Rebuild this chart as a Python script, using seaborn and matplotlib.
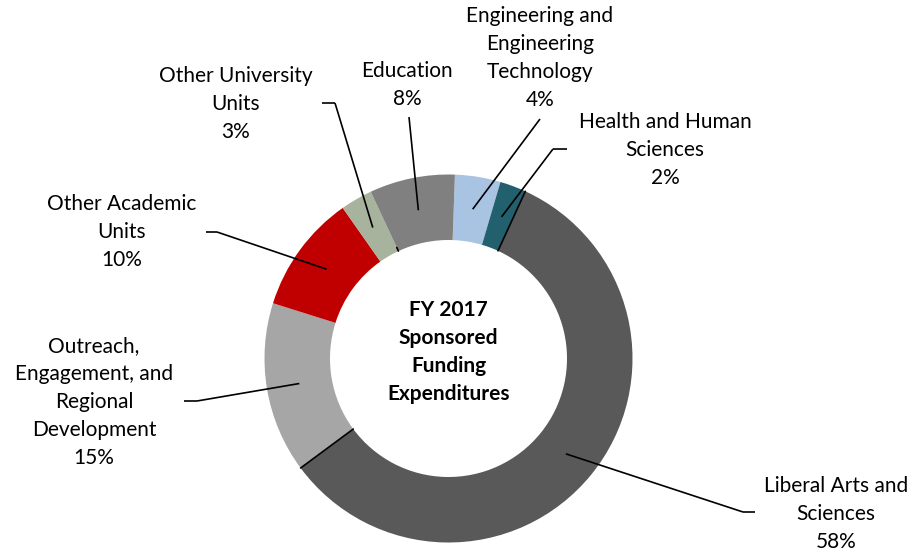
import numpy as np
import matplotlib
matplotlib.use("Agg")
import matplotlib.pyplot as plt
import seaborn as sns

# ---- data ----
categories = ["Engineering and\nEngineering\nTechnology", "Health and Human\nSciences",
              "Liberal Arts and\nSciences", "Outreach,\nEngagement, and\nRegional\nDevelopment",
              "Other Academic\nUnits", "Other University\nUnits", "Education"]
shares = [4.0, 2.3, 58.0, 15.0, 10.4, 2.8, 7.5]
pct_labels = ["4%", "2%", "58%", "15%", "10%", "3%", "8%"]
colors = ["#A9C3E3", "#22606E", "#595959", "#A6A6A6", "#C00000", "#A8B39D", "#808080"]
center_title = "FY 2017\nSponsored\nFunding\nExpenditures"

# ---- layout (pixel space of the 913x552 canvas, y measured from top) ----
W, H = 913, 552
cx, cy_top = 448.5, 358.5
R_out, R_in = 184, 118.5
label_xy = [(540, 58), (665, 150), (836, 514), (94, 402), (122, 232), (236, 104), (407, 85)]
tick_start = [(540, 119), (567, 149), (743, 512), (197, 401), (206, 232), (322, 103), (409, 117)]
tick_end = [None, (553, 149), (755, 512), (184, 401), (217, 232), (335, 103), None]

sns.set_theme(style="white")
plt.rcParams["font.family"] = ["Lato", "DejaVu Sans"]

fig = plt.figure(figsize=(W / 100, H / 100), dpi=100)
ax = fig.add_axes([0, 0, 1, 1])

cy = H - cy_top
wedges, _ = ax.pie(shares, colors=colors, startangle=88, counterclock=False,
                   radius=R_out, center=(cx, cy), frame=True,
                   wedgeprops=dict(width=R_out - R_in, linewidth=0))
ax.set_xlim(0, W)
ax.set_ylim(0, H)
ax.axis("off")

R_mid = (R_out + R_in) / 2
lw = 1.2
for i, w in enumerate(wedges):
    ang = np.deg2rad((w.theta1 + w.theta2) / 2)
    px, py = cx + R_mid * np.cos(ang), cy + R_mid * np.sin(ang)
    sx, sy = tick_start[i]
    if tick_end[i] is not None:
        ex, ey = tick_end[i]
        ax.plot([sx, ex], [H - sy, H - ey], color="black", lw=lw, solid_capstyle="butt")
        if abs(ex - cx) < abs(sx - cx):
            sx, sy = ex, ey
    ax.plot([sx, px], [H - sy, py], color="black", lw=lw, solid_capstyle="butt")
    lx, ly = label_xy[i]
    ax.text(lx, H - ly, categories[i] + "\n" + pct_labels[i], ha="center", va="center",
            fontsize=15, color="black", linespacing=1.5)

def edge_line(theta_deg, r0, r1):
    t = np.deg2rad(theta_deg)
    ax.plot([cx + r0 * np.cos(t), cx + r1 * np.cos(t)],
            [cy + r0 * np.sin(t), cy + r1 * np.sin(t)], color="black", lw=lw)

edge_line(wedges[1].theta1, R_in, R_out)   # Health / Liberal Arts
edge_line(wedges[2].theta1, R_in, R_out)   # Liberal Arts / Outreach
edge_line(wedges[6].theta2, R_in, R_in + 4)  # Other Univ / Education tick

ax.text(cx, H - 352, center_title, ha="center", va="center", fontsize=15,
        fontweight="bold", color="black", linespacing=1.5)

fig.savefig("out.png", dpi=100)
